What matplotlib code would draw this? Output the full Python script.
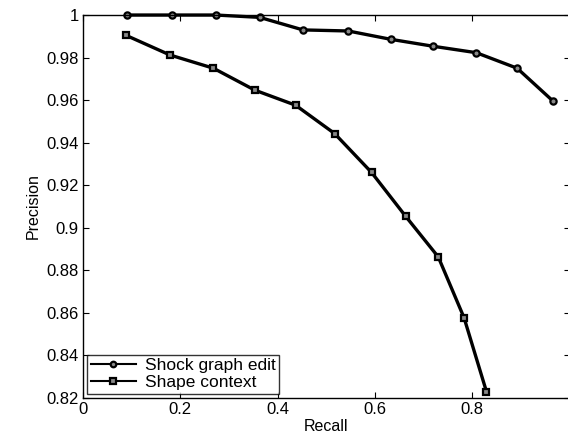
import matplotlib
matplotlib.use('Agg')
import matplotlib.pyplot as plt

plt.rcParams['font.family'] = ['Liberation Sans', 'DejaVu Sans']

# shock graph edit (circles)
sg_recall = [0.090, 0.182, 0.273, 0.363, 0.452, 0.545, 0.632, 0.720, 0.808, 0.892, 0.966]
sg_prec = [1.0, 1.0, 1.0, 0.9989, 0.993, 0.9925, 0.9886, 0.9853, 0.9823, 0.975, 0.9595]

# shape context (squares)
sc_recall = [0.088, 0.179, 0.268, 0.353, 0.437, 0.517, 0.593, 0.663, 0.730, 0.783, 0.829]
sc_prec = [0.9905, 0.9812, 0.975, 0.9647, 0.9576, 0.9443, 0.926, 0.9054, 0.8863, 0.8577, 0.823]

yticks = [0.82, 0.84, 0.86, 0.88, 0.9, 0.92, 0.94, 0.96, 0.98, 1.0]
ylabels = ['0.82', '0.84', '0.86', '0.88', '0.9', '0.92', '0.94', '0.96', '0.98', '1']
xticks = [0, 0.2, 0.4, 0.6, 0.8, 1.0]
xlabels = ['0', '0.2', '0.4', '0.6', '0.8', '']  # '1' falls off the page

fig = plt.figure(figsize=(5.68, 4.38), dpi=100)
ax = fig.add_axes([0.146, 0.0913, 0.857, 0.8744])

ax.plot(sg_recall, sg_prec, '-o', color='black', lw=2.4, ms=4.5,
        mfc='#888888', mec='black', mew=1.6, clip_on=False, label='Shock graph edit')
ax.plot(sc_recall, sc_prec, '-s', color='black', lw=2.4, ms=5,
        mfc='#888888', mec='black', mew=1.6, clip_on=False, label='Shape context')

ax.set_xlim(0, 1)
ax.set_ylim(0.82, 1.0)
ax.set_xticks(xticks)
ax.set_xticklabels(xlabels)
ax.set_yticks(yticks)
ax.set_yticklabels(ylabels)
ax.tick_params(direction='in', top=True, right=True, labelsize=12, length=4, width=0.8, pad=3)
for s in ax.spines.values():
    s.set_linewidth(1.0)

ax.set_xlabel('Recall', fontsize=11.5, labelpad=1)
ax.set_ylabel('Precision', fontsize=11.5, labelpad=4)

leg = ax.legend(loc='lower left', fontsize=12.5, frameon=True, fancybox=False,
                edgecolor='black', borderpad=0.2, labelspacing=0.1,
                handlelength=2.6, handletextpad=0.5, borderaxespad=0.25)
leg.get_frame().set_linewidth(1.0)
for h in leg.legend_handles:
    h.set_linewidth(1.5)
    h.set_markersize(4)

plt.savefig('out.png', dpi=100)
